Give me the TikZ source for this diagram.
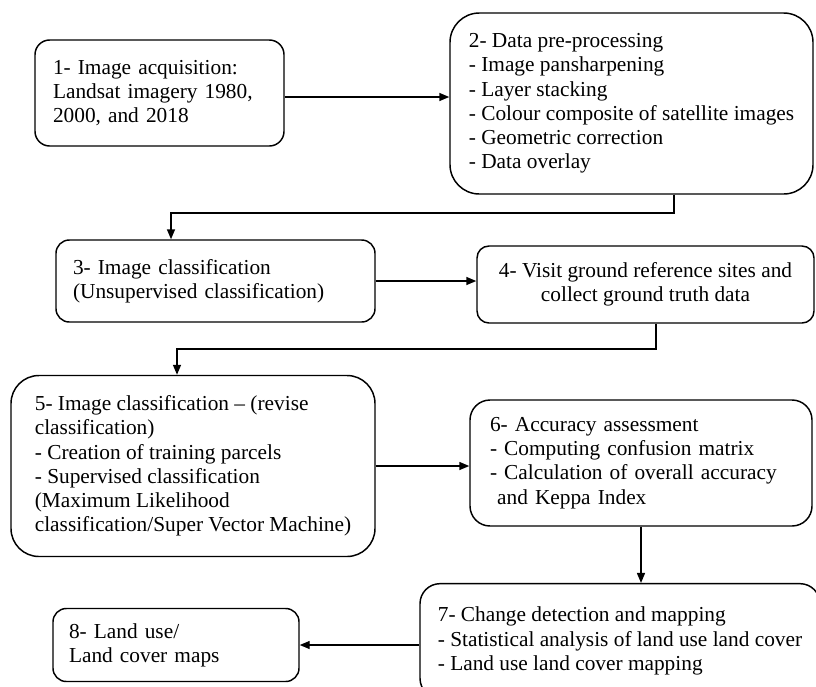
\documentclass[tikz,border=0pt]{standalone}
\usepackage{fontspec}
\setmainfont{Liberation Serif}
\usetikzlibrary{arrows.meta, positioning}

\begin{document}
\begin{tikzpicture}[
    x=0.75pt, y=-0.75pt,
    stage/.style={draw, line width=1.1pt, align=left, inner sep=0pt,
                  font=\fontsize{16}{18.2}\selectfont},
    arr/.style={-{Triangle[length=7.5pt, width=6pt]}, line width=1.1pt}
]
    \useasboundingbox (0,0) rectangle (816,686);

    % stages
    \node[stage, rounded corners=11pt, minimum width=186.75pt, minimum height=79.5pt,
          inner xsep=13.5pt, text width=159.75pt]
        (acq) at (159.5,93) {1- Image acquisition:\\Landsat imagery 1980,\\2000, and 2018};
    \node[stage, rounded corners=22pt, minimum width=272.25pt, minimum height=135.75pt]
        (prep) at (631.5,103.5) {2- Data pre-processing\\- Image pansharpening\\- Layer stacking\\
        - Colour composite of satellite images\\- Geometric correction\\- Data overlay};
    \node[stage, rounded corners=10pt, minimum width=239.25pt, minimum height=61.5pt,
          inner xsep=12.75pt, text width=213.75pt]
        (uncls) at (215.5,281) {3- Image classification\\(Unsupervised classification)};
    \node[stage, align=center, rounded corners=9pt, minimum width=252.75pt, minimum height=57.75pt]
        (visit) at (645.5,284.5) {4- Visit ground reference sites and\\collect ground truth data};
    \node[stage, rounded corners=21pt, minimum width=273pt, minimum height=135.75pt]
        (revise) at (193,466) {5- Image classification -- (revise\\classification)\\
        - Creation of training parcels\\- Supervised classification\\(Maximum Likelihood\\
        classification/Super Vector Machine)};
    \node[stage, rounded corners=15pt, minimum width=256.5pt, minimum height=94.5pt,
          inner xsep=15pt, text width=226.5pt]
        (accur) at (641,463) {6- Accuracy assessment\\- Computing confusion matrix\\
        - Calculation of overall accuracy\\\ and Keppa Index};
    \node[stage, rounded corners=15pt, minimum width=300pt, minimum height=86pt]
        (change) at (620,641) {7- Change detection and mapping\\
        - Statistical analysis of land use land cover\\- Land use land cover mapping};
    \node[stage, rounded corners=10pt, minimum width=184.5pt, minimum height=54.75pt,
          inner xsep=12pt, text width=160.5pt]
        (maps) at (176,645) {8- Land use/\\Land cover maps};

    % bends of the elbow connectors
    \coordinate (k1) at (674,213);
    \coordinate (k2) at (171,213);
    \coordinate (k3) at (656,349);
    \coordinate (k4) at (177,349);

    \draw[arr] ([yshift=-3pt]acq.east) -- ([yshift=-3pt]acq.east -| prep.west);
    \draw[arr] (prep.south -| k1) -- (k1) -- (k2) -- (k2 |- uncls.north);
    \draw[arr] (uncls.east) -- (uncls.east -| visit.west);
    \draw[arr] (visit.south -| k3) -- (k3) -- (k4) -- (k4 |- revise.north);
    \draw[arr] (revise.east) -- (revise.east -| accur.west);
    \draw[arr] (accur.south) -- (accur.south |- change.north);
    \draw[arr] (change.west |- maps.east) -- (maps.east);
\end{tikzpicture}
\end{document}
